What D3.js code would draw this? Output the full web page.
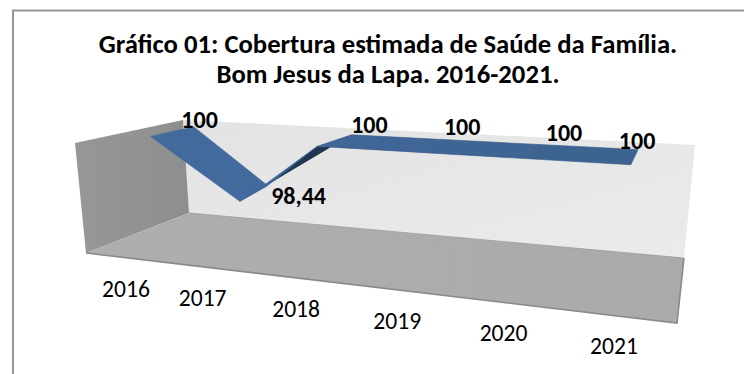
<!DOCTYPE html>
<html>
<head>
<meta charset="utf-8">
<script src="https://cdn.jsdelivr.net/npm/d3@7"></script>
<style>
  body { margin: 0; background: #fff; }
  text { font-family: Carlito, Lato, "Open Sans", sans-serif; fill: #000; }
</style>
</head>
<body>
<div id="chart"></div>
<script>
// Chart data
const years = [2016, 2017, 2018, 2019, 2020, 2021];
const coverage = [100, 98.44, 100, 100, 100, 100];
const coverageLabels = ["100", "98,44", "100", "100", "100", "100"];
const titleLines = ["Gráfico 01: Cobertura estimada de Saúde da Família.", "Bom Jesus da Lapa. 2016-2021."];

const width = 744, height = 374;

// Corners of the 3D box as the picture shows them
const box = {
    backBottomLeft: [189, 213], backBottomRight: [684, 258],
    backTopLeft: [183, 120], backTopRight: [695, 145],
    frontBottomLeft: [86, 253], frontBottomRight: [677, 323],
    frontTopLeft: [75, 143], frontTopRight: [675, 182]
};

// Categories bunch up towards the left on the back plane, hence the pow scale,
// and are about evenly spaced on the front plane. Domains count from the first year
const xBack = d3.scalePow().exponent(1.13).domain([0, 5]).range([0.02, 0.89]);
const xFront = d3.scaleLinear().domain([0, 5]).range([0.017, 0.908]);
const yScale = d3.scaleLinear().domain([97.46, 100.18]).range([0, 1]);
const zScale = d3.scaleLinear().domain([0, 1]).range([0, 1]);
const ribbonDepth = 0.4;

// Year labels sit on their own slanted line below the floor
const tickX = d3.scalePow().exponent(1.15).domain([0, 5]).range([126, 614]);
const tickY = d3.scalePow().exponent(1.13).domain([0, 5]).range([297, 354]);

// Label shift from the back edge of the ribbon
const labelShift = [[6, 1], [31, 18], [18, -2], [19, -5], [25, -3], [-1, -1]];

function mix(a, b, t) {
    return [a[0] + (b[0] - a[0]) * t, a[1] + (b[1] - a[1]) * t];
}

// Mapping from year, value and depth to the picture, between back and front plane
function project(year, value, depth) {
    let t = year - years[0], v = yScale(value), w = zScale(depth);
    let ub = xBack(t), uf = xFront(t);
    let back = mix(mix(box.backBottomLeft, box.backBottomRight, ub), mix(box.backTopLeft, box.backTopRight, ub), v);
    let front = mix(mix(box.frontBottomLeft, box.frontBottomRight, uf), mix(box.frontTopLeft, box.frontTopRight, uf), v);
    return mix(back, front, w);
}

let svg = d3.select("#chart").append("svg")
    .attr("width", width)
    .attr("height", height)
    .style("display", "block");

let defs = svg.append("defs");

function addGradient(id, x2, y2, from, to) {
    let g = defs.append("linearGradient").attr("id", id)
        .attr("x1", 0).attr("y1", 0).attr("x2", x2).attr("y2", y2);
    g.append("stop").attr("offset", 0).attr("stop-color", from);
    g.append("stop").attr("offset", 1).attr("stop-color", to);
}
addGradient("wallGrad", 1, 1, "#e3e3e3", "#ebebeb");
addGradient("sideGrad", 1, 0, "#979797", "#8e8e8e");
addGradient("floorGrad", 1, 0, "#aeaeae", "#aaaaaa");

// Chart area frame, only left and top are inside the crop
svg.append("path")
    .attr("d", "M13,374V10.5H744")
    .attr("fill", "none")
    .attr("stroke", "#969696")
    .attr("stroke-width", 2);

let poly = d3.line();

// Walls and floor
svg.append("path")
    .attr("d", poly([box.backTopLeft, box.backTopRight, box.backBottomRight, box.backBottomLeft]) + "Z")
    .attr("fill", "url(#wallGrad)");
svg.append("path")
    .attr("d", poly([box.backTopLeft, box.frontTopLeft, box.frontBottomLeft, box.backBottomLeft]) + "Z")
    .attr("fill", "url(#sideGrad)");
svg.append("path")
    .attr("d", poly([box.backBottomLeft, box.backBottomRight, box.frontBottomRight, box.frontBottomLeft]) + "Z")
    .attr("fill", "url(#floorGrad)");
svg.append("path")
    .attr("d", poly([box.frontBottomLeft, box.frontBottomRight, box.backBottomRight]))
    .attr("fill", "none")
    .attr("stroke", "#8a8a8a")
    .attr("stroke-width", 1.6);
svg.append("path")
    .attr("d", poly([box.backBottomLeft, box.backBottomRight]))
    .attr("fill", "none")
    .attr("stroke", "#999")
    .attr("stroke-width", 0.8);

// Ribbon, one face per pair of years
let ribbonColor = d3.scaleLinear().domain([2016, 2021]).range(["#426a9d", "#3c618e"]);
let back = years.map((y, i) => project(y, coverage[i], 0));
let front = years.map((y, i) => project(y, coverage[i], ribbonDepth));

// Where the rising face folds over at 2018
let fold = project(2017.86, coverage[2], ribbonDepth);
let wedgeStart = mix(front[1], front[2], 0.15);

years.slice(0, -1).forEach(function(y, i) {
    let pts = [front[i], back[i], back[i + 1], front[i + 1]];
    if (i === 1) {
        // rising part: narrow top band with the dark underside below it
        svg.append("path")
            .attr("d", poly([wedgeStart, fold, front[2]]) + "Z")
            .attr("fill", "#1f3653");
        pts = [front[1], back[1], fold, wedgeStart];
    } else if (i === 2) {
        pts = [fold, back[2], back[3], front[3], front[2]];
    }
    svg.append("path")
        .attr("d", poly(pts) + "Z")
        .attr("fill", ribbonColor(y))
        .attr("stroke", i >= 2 ? "#375a86" : ribbonColor(y))
        .attr("stroke-width", 0.6)
        .attr("stroke-linejoin", "round");
});

// Title
svg.selectAll(".title")
    .data(titleLines)
    .join("text")
    .attr("class", "title")
    .attr("x", 388)
    .attr("y", (d, i) => 52.5 + i * 30)
    .attr("text-anchor", "middle")
    .attr("font-size", 26.7)
    .attr("font-weight", "bold")
    .text(d => d);

// Value labels
svg.selectAll(".value")
    .data(coverageLabels)
    .join("text")
    .attr("class", "value")
    .attr("x", (d, i) => back[i][0] + labelShift[i][0])
    .attr("y", (d, i) => back[i][1] + labelShift[i][1])
    .attr("text-anchor", "middle")
    .attr("font-size", 24)
    .attr("font-weight", "bold")
    .text(d => d);

// Year labels
svg.selectAll(".year")
    .data(years)
    .join("text")
    .attr("class", "year")
    .attr("x", d => tickX(d - years[0]))
    .attr("y", d => tickY(d - years[0]))
    .attr("text-anchor", "middle")
    .attr("font-size", 23.6)
    .text(d => d);
</script>
</body>
</html>
